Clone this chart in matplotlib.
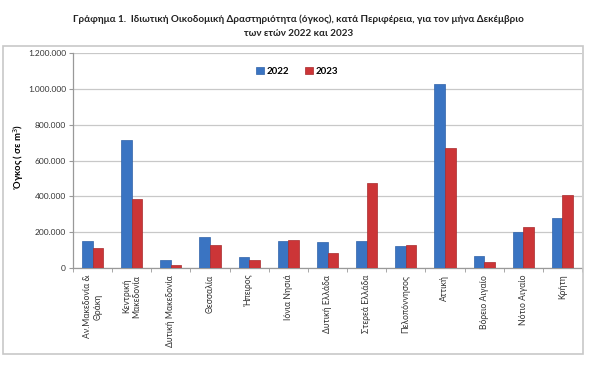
import matplotlib
matplotlib.use("Agg")
import matplotlib.pyplot as plt
import numpy as np
from matplotlib.patches import Rectangle
from matplotlib.ticker import FuncFormatter

plt.rcParams['font.family'] = ['Lato', 'DejaVu Sans']

categories = ["Αν.Μακεδονία &\nΘράκη", "Κεντρική\nΜακεδονία", "Δυτική Μακεδονία",
              "Θεσσαλία", "Ήπειρος", "Ιόνια Νησιά", "Δυτική Ελλάδα", "Στερεά Ελλάδα",
              "Πελοπόννησος", "Αττική", "Βόρειο Αιγαίο", "Νότιο Αιγαίο", "Κρήτη"]
vals_2022 = [150000, 714000, 41000, 172000, 60000, 148000, 143000, 152000,
             120000, 1027000, 66000, 202000, 278000]
vals_2023 = [109000, 385000, 15000, 129000, 44000, 156000, 81000, 473000,
             128000, 672000, 32000, 230000, 408000]
series_names = ["2022", "2023"]
yticks = [0, 200000, 400000, 600000, 800000, 1000000, 1200000]

W, H = 600, 374
fig = plt.figure(figsize=(W / 100, H / 100), dpi=100)

# outer chart frame
fig.patches.append(Rectangle((3 / W, 1 - 354 / H), 580 / W, (354 - 45.5) / H,
                             transform=fig.transFigure, fill=False,
                             edgecolor='#c8c8c8', linewidth=1.2))

ax = fig.add_axes([73 / W, 1 - 267.7 / H, (582 - 73) / W, (267.7 - 53.5) / H])

x = np.arange(len(categories))
bw = 0.27
ax.bar(x - bw / 2, vals_2022, bw, color='#3a74c2', edgecolor='#2f62a8', linewidth=0.5,
       label=series_names[0], zorder=3)
ax.bar(x + bw / 2, vals_2023, bw, color='#cc3537', edgecolor='#a82a2c', linewidth=0.5,
       label=series_names[1], zorder=3)

ax.set_xlim(-0.5, len(categories) - 0.5)
ax.set_ylim(0, 1200000)
ax.set_yticks(yticks)
ax.yaxis.set_major_formatter(FuncFormatter(lambda v, p: f"{int(v):,}".replace(",", ".")))
ax.grid(axis='y', color='#c8c8c8', linewidth=0.9, zorder=0)
ax.set_axisbelow(True)

ax.set_xticks(x)
ax.set_xticklabels(categories, rotation=90, fontsize=6.2, color='#333333',
                   ha='center', va='top', multialignment='center')
ax.tick_params(axis='x', length=0, pad=5)
ax.set_xticks(np.arange(-0.5, len(categories), 1.0), minor=True)
ax.tick_params(axis='x', which='minor', length=3, color='#999999')
ax.tick_params(axis='y', labelsize=6.0, labelcolor='#333333', length=3, color='#999999', pad=2)

for s in ['top', 'right']:
    ax.spines[s].set_visible(False)
for s in ['left', 'bottom']:
    ax.spines[s].set_color('#999999')
    ax.spines[s].set_linewidth(0.9)

ax.set_ylabel("Όγκος ( σε m$^{3}$)", fontsize=6.8, fontweight='bold', labelpad=3)
ax.yaxis.set_label_coords(-0.092, 0.52)

leg = ax.legend(loc='upper center', bbox_to_anchor=(0.44, 0.98), ncol=2, frameon=False,
                handlelength=0.8, handleheight=0.8, columnspacing=1.6,
                handletextpad=0.3, prop={'weight': 'bold', 'size': 7})

fig.text(0.497, 1 - 19 / H,
         "Γράφημα 1.  Ιδιωτική Οικοδομική Δραστηριότητα (όγκος), κατά Περιφέρεια, για τον μήνα Δεκέμβριο",
         ha='center', va='center', fontsize=7.1, fontweight='bold', color='#222222')
fig.text(0.497, 1 - 34 / H, "των ετών 2022 και 2023",
         ha='center', va='center', fontsize=7.1, fontweight='bold', color='#222222')

fig.savefig("out.png", dpi=100)
